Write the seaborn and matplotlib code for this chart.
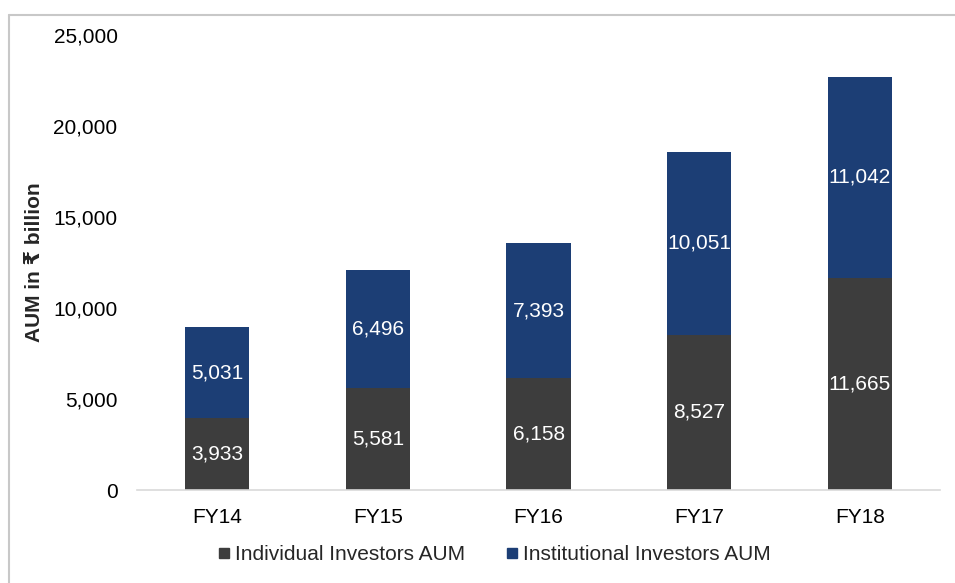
import matplotlib
matplotlib.use('Agg')
import matplotlib.pyplot as plt
import seaborn as sns
import pandas as pd
from matplotlib.lines import Line2D
from matplotlib.ticker import FuncFormatter

# Data
years = ['FY14', 'FY15', 'FY16', 'FY17', 'FY18']
individual = [3933, 5581, 6158, 8527, 11665]
institutional = [5031, 6496, 7393, 10051, 11042]

dark = '#3d3d3d'
navy = '#1c3e75'

sns.set_theme(style='white')
plt.rcParams['font.family'] = ['Liberation Sans', 'DejaVu Sans']

df = pd.DataFrame({'Year': years, 'Individual': individual, 'Institutional': institutional})

fig = plt.figure(figsize=(9.55, 5.83), dpi=100)
ax = fig.add_axes([0.1435, 0.1595, 0.841, 0.7805])

sns.barplot(data=df, x='Year', y='Individual', color=dark, width=0.4,
            saturation=1, linewidth=0, ax=ax)
sns.barplot(data=df, x='Year', y='Institutional', color=navy, width=0.4,
            saturation=1, linewidth=0, bottom=df['Individual'], ax=ax)

# Segment labels
for i, (a, b) in enumerate(zip(individual, institutional)):
    ax.text(i, a / 2, f'{a:,}', ha='center', va='center', color='white', fontsize=15)
    ax.text(i, a + b / 2, f'{b:,}', ha='center', va='center', color='white', fontsize=15)

ax.set_ylim(0, 25000)
ax.set_yticks(range(0, 25001, 5000))
ax.yaxis.set_major_formatter(FuncFormatter(lambda v, p: f'{int(v):,}'))
ax.set_xlim(-0.5, 4.5)
ax.set_xlabel('')
ax.set_ylabel('AUM in ₹ billion', fontsize=15, fontweight='bold', labelpad=7)
ax.tick_params(axis='y', length=0, pad=14, labelsize=15, colors='black')
ax.tick_params(axis='x', length=0, pad=13, labelsize=15, colors='black')

for s in ['top', 'right', 'left']:
    ax.spines[s].set_visible(False)
ax.spines['bottom'].set_color('#d9d9d9')
ax.spines['bottom'].set_linewidth(1.2)

handles = [Line2D([], [], marker='s', linestyle='', color=dark, markersize=7),
           Line2D([], [], marker='s', linestyle='', color=navy, markersize=7)]
fig.legend(handles, ['Individual Investors AUM', 'Institutional Investors AUM'],
           loc='center', bbox_to_anchor=(0.517, 0.049), ncol=2, frameon=False,
           fontsize=15, handletextpad=0.2, columnspacing=1.9, handlelength=0.7)

# Light frame on the top and left edges
fig.add_artist(Line2D([0.0094, 1.0], [0.974, 0.974], color='#c8c8c8', lw=1.5))
fig.add_artist(Line2D([0.0094, 0.0094], [0.0, 0.974], color='#c8c8c8', lw=1.5))

fig.savefig('out.png', dpi=100)
